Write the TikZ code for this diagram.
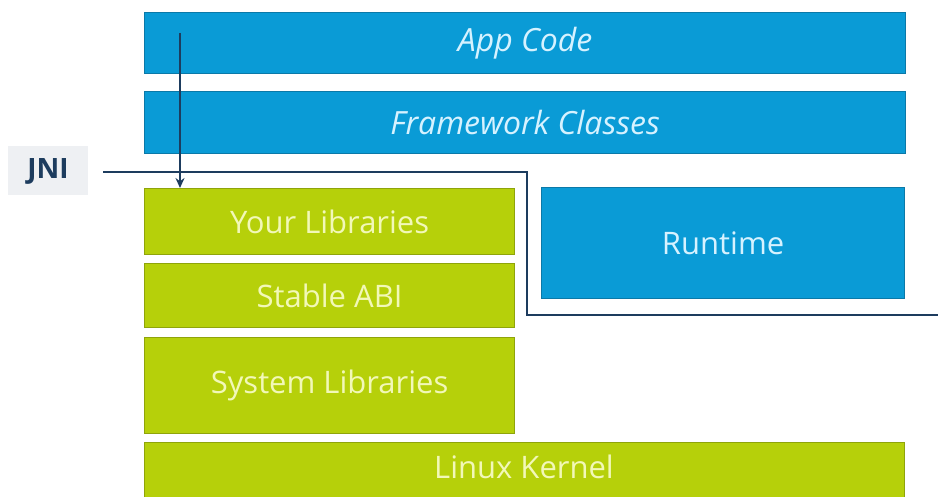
\documentclass[tikz,border=0pt]{standalone}
\usepackage{fontspec}
\setmainfont{Open Sans}
\usetikzlibrary{arrows.meta}
\definecolor{bluefill}{HTML}{0A9BD6}
\definecolor{blueedge}{HTML}{0B79A8}
\definecolor{greenfill}{HTML}{B6D00A}
\definecolor{greenedge}{HTML}{8FA40A}
\definecolor{bluetext}{HTML}{D6F2FF}
\definecolor{greentext}{HTML}{F2F8B8}
\definecolor{navy}{HTML}{1D3C5E}
\definecolor{labelgray}{HTML}{EEF0F3}
\tikzset{
  layer/.style={draw, line width=1.2pt, inner sep=0pt, anchor=north west},
  bluebox/.style={layer, fill=bluefill, draw=blueedge, text=bluetext},
  greenbox/.style={layer, fill=greenfill, draw=greenedge, text=greentext},
  boxtext/.style={font=\fontsize{31}{36}\selectfont},
  itext/.style={font=\fontsize{32}{38}\selectfont\itshape},
  conn/.style={draw=navy, line width=2.6pt}
}
\begin{document}
\begin{tikzpicture}[x=1pt,y=-1pt]
\useasboundingbox (0,0) rectangle (938,497);
\begin{scope}
\clip (0,0) rectangle (938,497);
\node[bluebox, minimum width=761pt, minimum height=61pt] (app) at (144,12) {};
\node[itext, text=bluetext] at (app.center) {App Code};
\node[bluebox, minimum width=761pt, minimum height=62pt] (fw) at (144,91) {};
\node[itext, text=bluetext] at (fw.center) {Framework Classes};
\node[greenbox, minimum width=370pt, minimum height=66pt] (your) at (144,188) {};
\node[boxtext, text=greentext] at (your.center) {Your Libraries};
\node[greenbox, minimum width=370pt, minimum height=64pt] (abi) at (144,263) {};
\node[boxtext, text=greentext] at (abi.center) {Stable ABI};
\node[greenbox, minimum width=370pt, minimum height=96pt] (sys) at (144,337) {};
\node[boxtext, text=greentext] at (sys.center) {System Libraries};
\node[greenbox, minimum width=760pt, minimum height=70pt] (kern) at (144,442) {};
\node[boxtext, text=greentext] at (524,467) {Linux Kernel};
\node[bluebox, minimum width=363pt, minimum height=111pt] (rt) at (541,187) {};
\node[boxtext, text=bluetext] at (rt.center) {Runtime};
\node[fill=labelgray, minimum width=80pt, minimum height=49pt, inner sep=0pt, text=navy, font=\fontsize{28}{32}\selectfont\bfseries] (jni) at (48,171) {JNI};
\coordinate (jA) at (103,172);
\coordinate (jB) at (527,172);
\coordinate (jC) at (527,315);
\coordinate (jD) at (940,315);
\draw[conn] (jA) -- (jB) -- (jC) -- (jD);
\coordinate (arS) at (180,33);
\draw[conn, line width=2.2pt, -{Stealth[length=10pt,width=9pt]}] (arS) -- (your.north -| arS);
\end{scope}
\end{tikzpicture}
\end{document}
